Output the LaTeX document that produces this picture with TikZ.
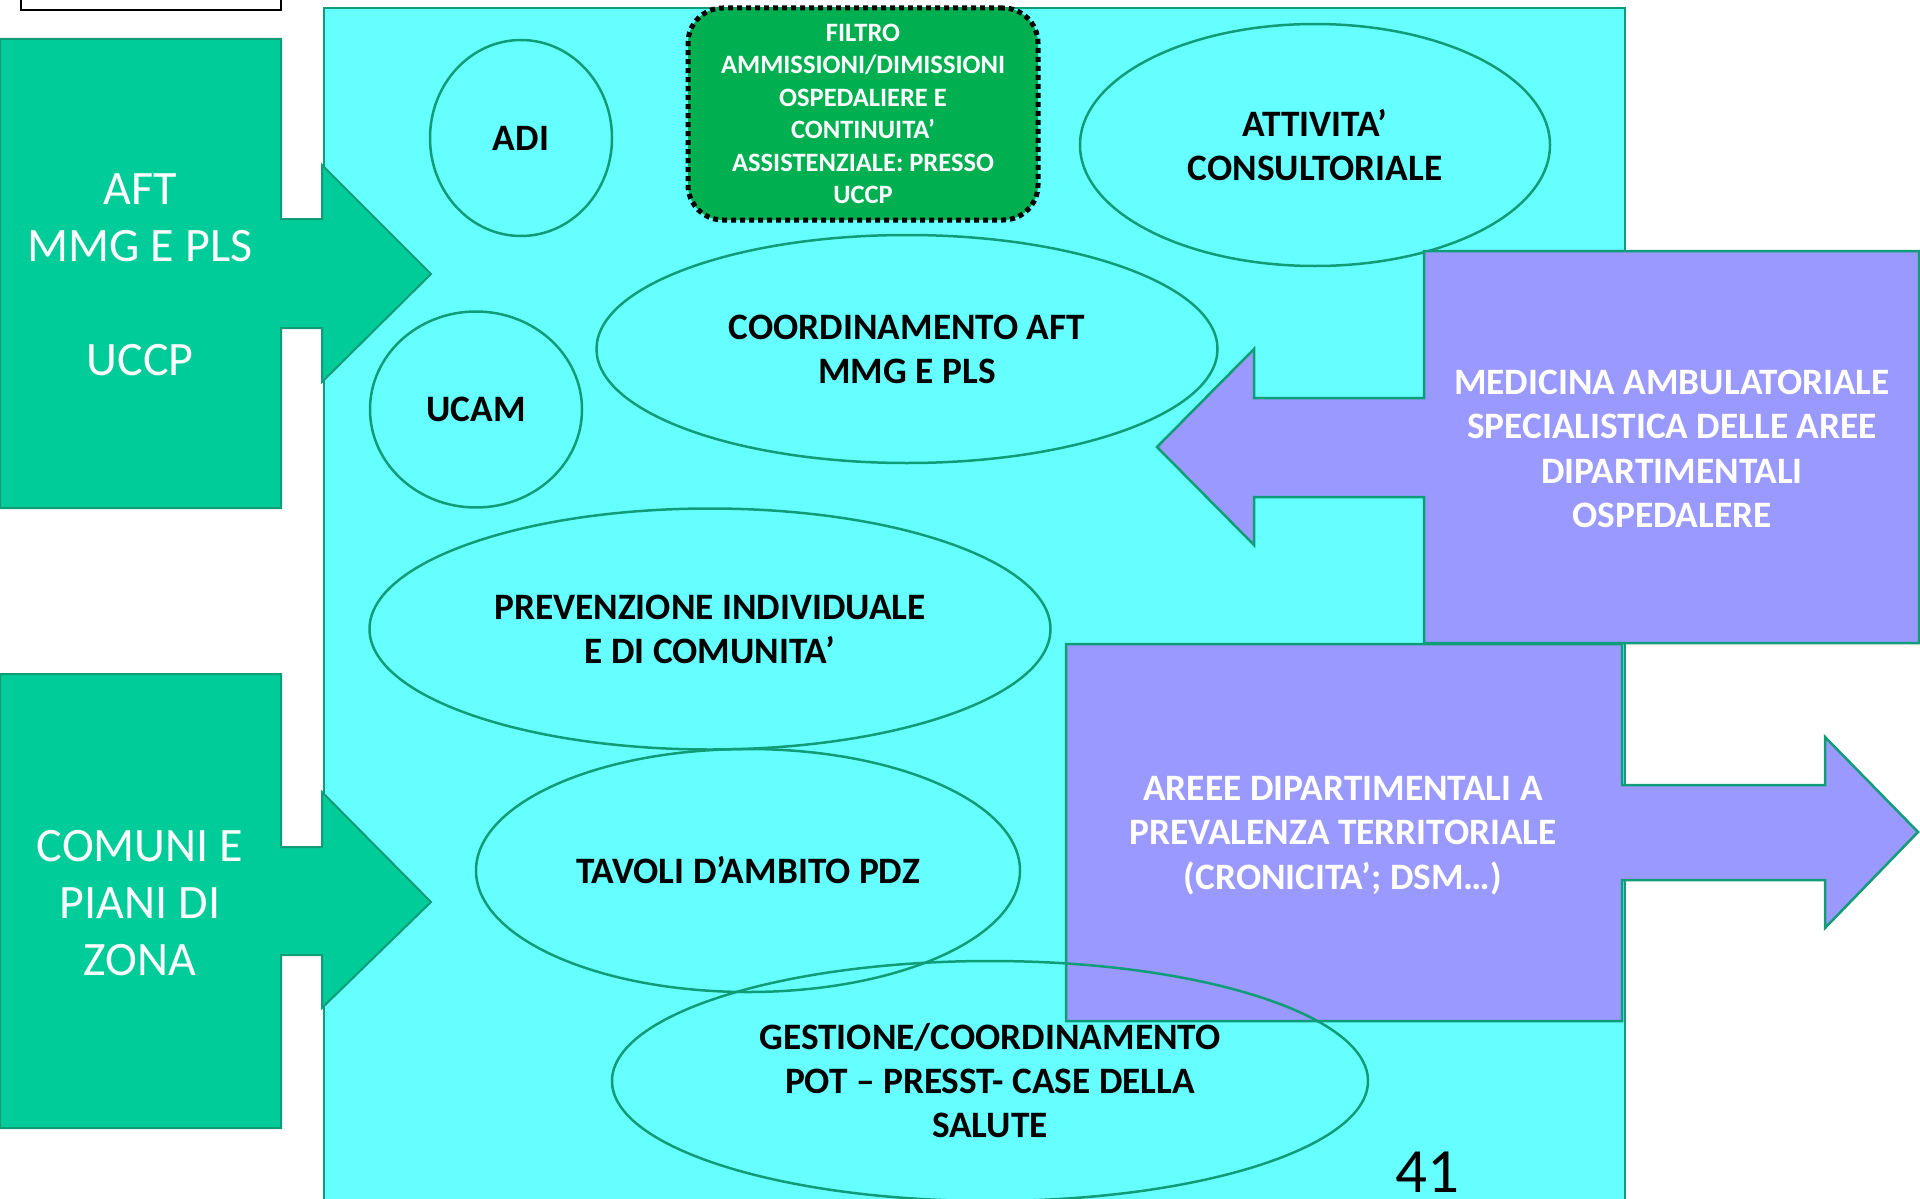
\documentclass[tikz,border=0pt]{standalone}
\usepackage{fontspec}
\setmainfont{Carlito}
\usetikzlibrary{shapes.geometric}
\definecolor{bgcyan}{HTML}{66FFFF}
\definecolor{edgecol}{HTML}{119C78}
\definecolor{boxgreen}{HTML}{00CC99}
\definecolor{boxpurple}{HTML}{9999FF}
\definecolor{filtgreen}{HTML}{00B050}
\begin{document}
\begin{tikzpicture}[x=1pt,y=-1pt,line join=miter,
  shapeline/.style={draw=edgecol,line width=2.5pt},
  ell/.style={ellipse,draw=edgecol,line width=2.5pt,inner sep=0pt,
    font=\fontsize{37.3}{44}\selectfont\bfseries,align=center,text=black},
  whitebig/.style={text=white,font=\fontsize{48}{57}\selectfont,align=center,inner sep=0pt},
  whitebold/.style={text=white,font=\fontsize{37.3}{44.3}\selectfont\bfseries,align=center,inner sep=0pt}]
\useasboundingbox (0,0) rectangle (1920,1199);
\clip (0,0) rectangle (1920,1199);
% background panel
\draw[shapeline,fill=bgcyan] (324,8) rectangle (1625,1260);
% top-left white box
\draw[black,line width=2pt,fill=white] (21,-10) rectangle (281,10);
% AFT block arrow
\draw[shapeline,fill=boxgreen,line width=2pt] (0,39) -- (281,39) -- (281,219) -- (322,219) -- (322,165) -- (431,274)
  -- (322,382) -- (322,328) -- (281,328) -- (281,508) -- (0,508) -- cycle;
\node[whitebig] (aft) at (140,275) {AFT\\MMG E PLS\\\mbox{}\\UCCP};
% COMUNI block arrow
\draw[shapeline,fill=boxgreen,line width=2pt] (0,674) -- (281,674) -- (281,847) -- (322,847) -- (322,792) -- (431,902)
  -- (322,1008) -- (322,955) -- (281,955) -- (281,1128) -- (0,1128) -- cycle;
\node[whitebig] (comuni) at (140,903) {COMUNI E\\PIANI DI\\ZONA};
% ellipses
\node[ell,minimum width=182pt,minimum height=196pt] (adi) at (521,138) {ADI};
\node[ell,minimum width=212pt,minimum height=196pt] (ucam) at (476,409.5) {UCAM};
\node[ell,minimum width=470pt,minimum height=242pt] (attiv) at (1315,145) {ATTIVITA’\\CONSULTORIALE};
\node[ell,minimum width=621pt,minimum height=228pt] (coord) at (907,349) {COORDINAMENTO AFT\\MMG E PLS};
\node[ell,minimum width=681pt,minimum height=241pt] (prev) at (710,629) {PREVENZIONE INDIVIDUALE\\E DI COMUNITA’};
\node[ell,minimum width=544pt,minimum height=243pt] (tavoli) at (748,870.5) {TAVOLI D’AMBITO PDZ};
% filter box
\node[draw=black,line width=5pt,dash pattern=on 5pt off 4pt,fill=filtgreen,rounded corners=35pt,
  minimum width=350pt,minimum height=212pt,inner sep=0pt,text=white,align=center,
  font=\fontsize{26.5}{32.4}\selectfont\bfseries] (filtro) at (863,114)
  {FILTRO\\AMMISSIONI/DIMISSIONI\\OSPEDALIERE E\\CONTINUITA’\\ASSISTENZIALE: PRESSO\\UCCP};
% MEDICINA block arrow (pointing left)
\draw[shapeline,fill=boxpurple] (1919,251) -- (1424,251) -- (1424,398) -- (1254,398) -- (1254,349) -- (1157,447)
  -- (1254,545) -- (1254,497) -- (1424,497) -- (1424,643) -- (1919,643) -- cycle;
\node[whitebold] (med) at (1672,449) {MEDICINA AMBULATORIALE\\SPECIALISTICA DELLE AREE\\DIPARTIMENTALI\\OSPEDALERE};
% AREEE block arrow (pointing right)
\draw[shapeline,fill=boxpurple] (1066,644) -- (1622,644) -- (1622,785) -- (1825,785) -- (1825,737) -- (1918,832)
  -- (1825,928) -- (1825,880) -- (1622,880) -- (1622,1021) -- (1066,1021) -- cycle;
\node[whitebold] (areee) at (1343,835.5) {AREEE DIPARTIMENTALI A\\PREVALENZA TERRITORIALE\\(CRONICITA’; DSM…)};
% GESTIONE ellipse (outline only, over the purple box)
\node[ell,minimum width=756pt,minimum height=240pt] (gest) at (990,1081) {GESTIONE/COORDINAMENTO\\POT – PRESST- CASE DELLA\\SALUTE};
% page number
\node[font=\fontsize{63}{70}\selectfont,inner sep=0pt,anchor=base] (num) at (1427,1192) {41};
\end{tikzpicture}
\end{document}
